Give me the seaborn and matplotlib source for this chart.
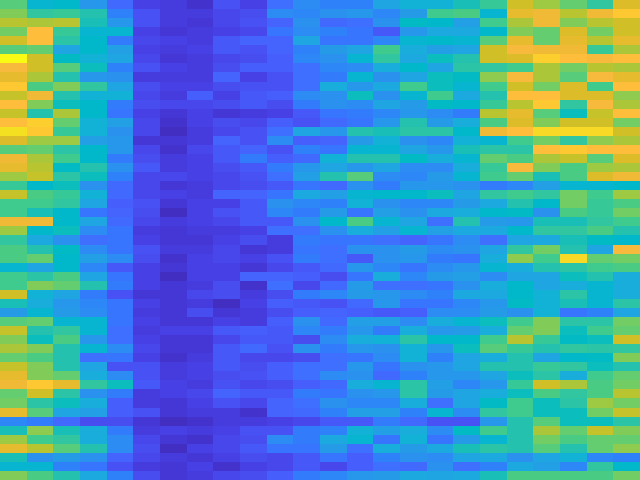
import matplotlib
matplotlib.use("Agg")
import matplotlib.pyplot as plt
import numpy as np
import seaborn as sns
from matplotlib.colors import LinearSegmentedColormap

parula = [
    (0.2422,0.1504,0.6603),(0.2504,0.1650,0.7076),(0.2578,0.1818,0.7511),(0.2647,0.1978,0.7952),
    (0.2706,0.2147,0.8364),(0.2751,0.2342,0.8710),(0.2783,0.2559,0.8991),(0.2803,0.2782,0.9221),
    (0.2813,0.3006,0.9414),(0.2810,0.3228,0.9579),(0.2795,0.3447,0.9717),(0.2760,0.3667,0.9829),
    (0.2699,0.3892,0.9906),(0.2602,0.4123,0.9952),(0.2440,0.4358,0.9988),(0.2206,0.4603,0.9973),
    (0.1963,0.4847,0.9892),(0.1834,0.5074,0.9798),(0.1786,0.5289,0.9682),(0.1764,0.5499,0.9520),
    (0.1687,0.5703,0.9359),(0.1540,0.5902,0.9218),(0.1460,0.6091,0.9079),(0.1380,0.6276,0.8973),
    (0.1248,0.6459,0.8883),(0.1113,0.6635,0.8763),(0.0952,0.6798,0.8598),(0.0689,0.6948,0.8394),
    (0.0297,0.7082,0.8163),(0.0036,0.7203,0.7917),(0.0067,0.7312,0.7660),(0.0433,0.7411,0.7394),
    (0.0964,0.7500,0.7120),(0.1408,0.7584,0.6842),(0.1717,0.7670,0.6554),(0.1938,0.7758,0.6251),
    (0.2161,0.7843,0.5923),(0.2470,0.7918,0.5567),(0.2906,0.7973,0.5188),(0.3406,0.8008,0.4789),
    (0.3909,0.8029,0.4354),(0.4456,0.8024,0.3909),(0.5044,0.7993,0.3480),(0.5616,0.7942,0.3045),
    (0.6174,0.7876,0.2612),(0.6720,0.7793,0.2227),(0.7242,0.7698,0.1910),(0.7738,0.7598,0.1646),
    (0.8203,0.7498,0.1535),(0.8634,0.7406,0.1596),(0.9035,0.7330,0.1774),(0.9393,0.7288,0.2100),
    (0.9728,0.7298,0.2394),(0.9956,0.7434,0.2371),(0.9970,0.7659,0.2199),(0.9952,0.7861,0.1999),
    (0.9892,0.8086,0.1816),(0.9786,0.8297,0.1641),(0.9676,0.8513,0.1477),(0.9610,0.8728,0.1300),
    (0.9597,0.8949,0.1200),(0.9628,0.9184,0.1100),(0.9691,0.9411,0.0950),(0.9769,0.9839,0.0805),
]

r00 = [39,28,29,21,13,6,5,3,9,6,14,19, 17,17,24,27,27,32,36,48,44,40,35,49]
r01 = [42,35,36,33,17,9,5,5,7,8,19,18, 20,21,18,22,37,38,28,50,51,46,51,55]
r02 = [46,45,46,32,21,9,5,4,7,9,12,20, 13,14,20,30,29,23,37,45,51,42,46,48]
r03 = [41,53,36,28,28,6,4,5,6,7,15,19, 17,15,10,21,25,25,29,42,40,49,41,48]
r04 = [48,53,34,29,16,7,6,5,10,12,12,24, 15,15,18,28,29,28,39,50,40,50,46,50]
r05 = [39,40,24,29,23,6,5,6,10,9,12,17, 22,24,37,26,23,24,48,52,51,51,36,45]
r06 = [63,48,30,27,24,7,4,5,7,8,11,18, 20,28,35,25,31,33,48,49,56,53,52,53]
r07 = [52,48,39,31,17,9,6,5,8,11,11,14, 18,19,26,29,24,34,35,37,45,41,46,45]
r08 = [50,45,33,21,20,5,5,5,12,6,9,14, 16,28,20,24,31,30,43,52,45,39,52,50]
r09 = [55,38,42,35,24,8,6,6,8,9,9,14, 26,21,25,37,31,28,37,48,41,49,37,53]
r10 = [47,51,33,27,27,7,5,11,6,10,11,19, 20,31,20,28,37,25,33,53,53,49,49,43]
r11 = [53,42,31,29,16,8,7,7,8,10,8,16, 20,19,24,22,30,29,36,46,55,35,52,45]
r12 = [47,33,45,29,15,6,4,6,4,5,6,10, 15,16,18,21,19,16,46,50,39,31,47,53]
r13 = [53,56,40,27,23,7,3,6,8,7,11,9, 13,15,21,33,22,26,38,49,42,48,48,41]
r14 = [59,55,36,27,20,7,2,5,7,9,14,24, 21,33,32,34,34,29,51,53,58,58,58,48]
r15 = [49,44,44,23,21,4,4,5,12,9,19,11, 12,22,27,20,18,27,28,37,41,35,43,45]
r16 = [39,40,34,29,21,7,3,7,10,12,9,17, 15,28,28,24,21,32,34,34,53,55,53,53]
r17 = [51,45,37,29,16,8,5,6,10,16,11,13, 27,33,33,30,26,28,40,38,45,47,39,49]
r18 = [50,46,30,33,20,10,5,6,8,10,16,21, 24,21,24,19,19,26,36,52,42,38,44,45]
r19 = [44,47,34,31,17,7,7,6,7,9,14,23, 33,39,19,18,22,28,37,40,32,38,49,51]
r20 = [36,29,31,20,13,7,4,5,7,8,10,15, 13,20,16,21,21,20,16,18,23,28,28,29]
r21 = [47,38,36,27,13,7,6,5,12,12,15,25, 23,28,29,29,31,24,35,37,35,41,37,44]
r22 = [37,37,35,24,11,9,4,6,6,10,20,18, 17,27,20,18,18,22,25,33,29,41,36,38]
r23 = [37,32,29,15,12,8,2,6,9,10,18,16, 22,15,23,20,25,26,29,30,20,38,36,41]
r24 = [51,51,29,24,13,7,5,6,7,10,10,20, 29,38,28,24,14,33,22,21,32,32,35,37]
r25 = [44,29,31,19,15,5,4,5,5,6,14,14, 20,26,23,28,23,25,25,29,35,35,38,33]
r26 = [35,25,20,14,15,6,4,4,6,8,5,16, 15,15,14,12,15,19,14,24,25,32,30,29]
r27 = [38,33,30,19,15,9,5,5,7,4,5,15, 14,20,20,22,19,20,24,35,41,33,24,52]
r28 = [38,40,29,23,19,8,3,6,7,6,9,16, 14,10,20,21,16,15,26,43,37,58,40,41]
r29 = [28,24,29,18,10,6,4,6,6,4,7,10, 13,21,18,15,19,21,28,26,33,34,37,38]
r30 = [37,34,38,24,15,6,2,6,6,12,12,11, 8,15,26,18,22,23,19,24,24,31,33,26]
r31 = [37,42,40,33,16,6,4,5,8,3,14,7, 13,22,14,14,15,20,26,29,24,26,28,26]
r32 = [48,27,24,16,9,4,4,7,8,5,8,16, 18,22,21,19,17,25,25,29,27,34,28,26]
r33 = [32,26,21,18,15,6,4,5,2,6,11,10, 9,13,21,15,15,18,21,30,27,32,28,34]
r34 = [22,28,22,19,15,5,4,8,4,5,8,11, 12,11,10,11,19,19,22,20,27,15,17,24]
r35 = [39,40,28,28,15,6,4,4,6,5,11,20, 13,23,23,19,26,28,31,37,42,34,34,41]
r36 = [47,33,35,28,14,5,6,6,10,11,10,18, 16,21,16,26,21,22,26,40,42,31,37,40]
r37 = [42,31,38,21,14,6,4,4,7,10,10,8, 19,26,27,34,29,29,37,46,36,30,31,48]
r38 = [45,42,33,28,19,7,4,4,10,13,9,20, 16,21,20,27,21,31,39,36,33,35,34,35]
r39 = [40,38,33,14,15,6,3,5,10,7,7,8, 14,15,19,27,17,24,26,33,24,29,30,42]
r40 = [47,42,33,24,9,9,5,6,10,8,11,14, 14,21,15,20,21,24,33,33,36,35,31,33]
r41 = [50,42,40,26,19,9,5,6,8,9,11,14, 19,20,13,17,21,21,24,31,34,26,37,40]
r42 = [51,55,50,35,31,10,6,5,9,7,8,11, 13,26,28,34,23,18,21,36,48,45,38,41]
r43 = [40,48,34,20,16,5,6,7,12,10,10,16, 15,20,21,34,22,24,26,31,38,35,38,46]
r44 = [41,34,31,26,11,5,4,6,9,7,12,14, 20,18,18,26,14,24,30,37,31,34,44,41]
r45 = [50,39,24,23,11,9,4,5,5,3,12,13, 17,23,23,17,28,19,35,37,31,31,41,47]
r46 = [18,16,13,8,8,4,2,3,5,5,6,7, 10,10,16,13,9,9,21,33,39,31,31,34]
r47 = [32,43,32,26,16,5,6,5,6,9,9,16, 17,27,23,26,19,30,37,33,45,40,47,42]
r48 = [44,37,35,26,19,7,4,3,7,8,19,16, 25,28,15,27,15,22,28,33,41,38,40,40]
r49 = [50,46,39,33,19,8,2,6,7,10,15,15, 22,14,26,22,25,32,34,33,39,33,40,43]
r50 = [32,20,22,20,12,7,5,4,6,8,7,10, 15,11,17,20,19,24,25,20,24,27,18,17]
r51 = [28,28,17,15,9,5,4,6,3,6,7,10, 7,11,14,13,20,14,17,25,23,18,35,29]
r52 = [42,38,33,25,17,8,4,5,7,8,11,16, 18,21,22,25,24,25,32,38,38,38,38,41]

rows = [r00,r01,r02,r03,r04,r05,r06,r07,r08,r09,r10,r11,r12,r13,r14,r15,r16,r17,
        r18,r19,r20,r21,r22,r23,r24,r25,r26,r27,r28,r29,r30,r31,r32,r33,r34,r35,
        r36,r37,r38,r39,r40,r41,r42,r43,r44,r45,r46,r47,r48,r49,r50,r51,r52]

cmap = LinearSegmentedColormap.from_list("parula", parula, N=64)

fig = plt.figure(figsize=(6.4, 4.8), dpi=100)
ax = fig.add_axes([0, 0, 1, 1])
sns.heatmap(np.array(rows), ax=ax, cmap=cmap, vmin=0, vmax=63, cbar=False,
            xticklabels=False, yticklabels=False, linewidths=0)
ax.set_axis_off()
fig.savefig("out.png", dpi=100)
